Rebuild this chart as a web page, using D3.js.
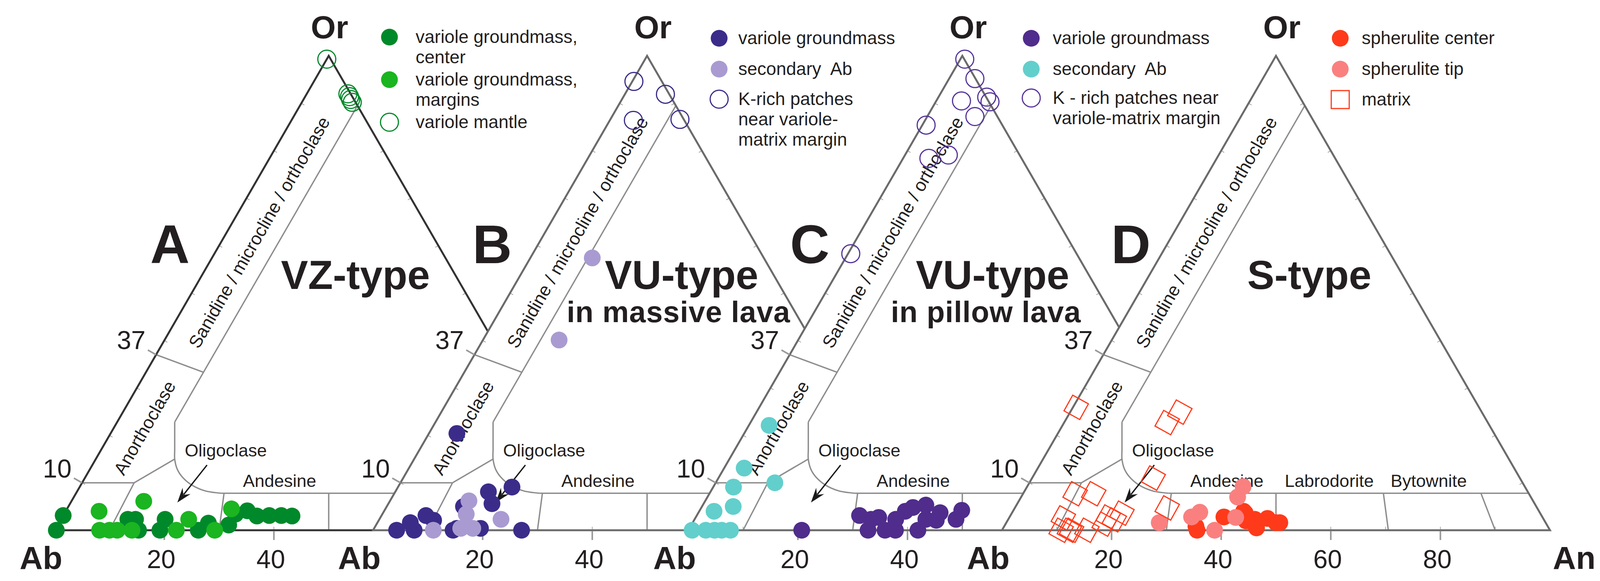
<!DOCTYPE html>
<html><head><meta charset="utf-8">
<script src="https://cdn.jsdelivr.net/npm/d3@7/dist/d3.min.js"></script>
<style>
body{margin:0;background:#fff}
svg{display:block}
text{font-family:"Liberation Sans",Arial,Helvetica,sans-serif;fill:#231f20}
</style>
</head><body>
<svg id="chart" width="4142" height="1488"></svg>
<script>
// ---------------- DATA ----------------
const panelLetters   = ["A", "B", "C", "D"];
const panelTitles    = ["VZ-type", "VU-type", "VU-type", "S-type"];
const panelSubtitles = ["", "in massive lava", "in pillow lava", ""];
const bottomTickLabels = [[20, 40], [20, 40], [20, 40], [20, 40, 60, 80]];
const leftTickLabels = [10, 37];
const vertexNames = ["Ab", "Or", "An"];

// field boundaries, [An, Or] in %
const bandLine   = [[10.5, 89.5], [10.5, 22.8]];
const curveLine  = [[10.5, 22.8], [11.9, 20], [13.4, 17], [14.4, 15], [15.9, 12.9], [17.7, 11.2], [20.3, 9.5], [23.3, 8.3], [26.5, 7.8]];
const plagTop    = [[26.5, 7.8], [92.2, 7.8]];
const line37     = [[0, 37], [10.5, 33.3]];
const line10     = [[0, 10], [9.5, 10]];
const lineAnor   = [[10, 0], [9.5, 10]];
const lineJ      = [[9.5, 10], [14.4, 15]];
const line30     = [[30, 0], [27, 7.8]];
const line50     = [[50, 0], [46.1, 7.8]];
const line70     = [[70.5, 0], [65.7, 7.8]];
const line90     = [[90, 0], [83.5, 7.8]];

// analyses, [An, Or] in %
const aCenter  = [[0.3,0],[0,3.1],[12.2,2.3],[13.6,2.3],[15.3,0],[19.2,0],[19,2.3],[26.2,0],[27.3,1.5],[31.2,1.1],[31.3,3.4],[33.1,4.1],[35.4,3.0],[37.6,3.1],[39.8,3.1],[41.8,3.0]];
const aMargins = [[6.1,4.0],[8.2,0],[10,0],[11.4,0],[14.1,0],[13.2,6.1],[22.2,0],[23.3,2.3],[29.2,0],[30,4.5]];
const aMantle  = [[0,99.3],[7.5,92],[8.1,91.4],[8.6,90.8],[9.2,90.2]];

const bGround  = [[4.3,0],[6,1.6],[7.5,0],[8.1,3.1],[10,2.1],[14.6,0],[14,5],[15.1,0.4],[19.4,0.4],[17,8.1],[18.9,5.6],[20.8,9.1],[27.1,0],[5.1,20.4]];
const bSecAb   = [[11,0],[14.4,6.2],[15.3,3.4],[15.8,0.4],[18,0.4],[22.2,2.3],[11.3,57.4],[13.9,40.1]];
const bKrich   = [[0.3,94.6],[7.4,91.9],[4.3,86.4],[12.7,86.6]];

const cGround  = [[20.7,0],[29.7,3.1],[32.8,0],[32.2,2.3],[33.4,2.7],[35.9,0],[37.8,0],[36.7,2.3],[37.6,4.0],[38.6,4.8],[41.9,0],[40.7,5.3],[42.2,2.3],[44.2,2.1],[44.1,3.7],[47.7,2.3],[47.8,4.2]];
const cSecAb   = [[3.7,22.1],[3.65,13.1],[3.7,9.1],[10.8,10],[5.7,5],[2.7,4],[0.7,0],[3.2,0],[4.8,0],[6.1,0],[7.7,0]];
const cKrich   = [[0.8,99.3],[4.7,95.2],[8.8,91.3],[9.9,90.3],[4.6,90.5],[8.7,87.2],[0.7,85.4],[4.7,78.4],[7.9,79.1],[0.5,58.3]];

const dCenter  = [[35,0.8],[35.6,0],[39.1,2.8],[42.1,4.0],[42.6,3.6],[43.5,2.0],[45,2.3],[45.9,0.8],[46.2,0.5],[47.2,2.5],[49.2,1.6],[49.9,1.6]];
const dTip     = [[27.9,1.6],[33.2,2.8],[34.2,3.8],[38.8,0],[39.5,7],[39.4,9.2],[41.3,2.7]];
const dMatrix  = [[0.6,25.9],[20,24.9],[18.8,22.7],[22.1,11],[9.5,7.7],[12.9,7.7],[9.9,2.6],[27.8,4.7],[18,2.8],[20.1,3.6],[19.4,2.2],[12.3,0],[10.8,0],[12.7,0],[15.5,0],[18,1.3]];

const legendA = [["variole groundmass,", "center"], ["variole groundmass,", "margins"], ["variole mantle"]];
const legendB = [["variole groundmass"], ["secondary  Ab"], ["K-rich patches", "near variole-", "matrix margin"]];
const legendC = [["variole groundmass"], ["secondary  Ab"], ["K - rich patches near", "variole-matrix margin"]];
const legendD = [["spherulite center"], ["spherulite tip"], ["matrix"]];

const fieldNames = ["Sanidine / microcline / orthoclase", "Anorthoclase", "Oligoclase", "Andesine", "Labrodorite", "Bytownite"];

// ---------------- LAYOUT / STYLE ----------------
const W = 1403, H = 1215, baseY = 1358;
const abX = [140, 955, 1762, 2565];
const edgeColor = ["#333333", "#6b6b6b", "#6b6b6b", "#6b6b6b"];
const bColor = "#8d8d8d";
const letterX = [435, 1260, 2073, 2895];
const titleX = [910, 1745, 2541, 3352];
const subX = [0, 1737, 2524, 0];
const legMarkX = [997, 1841, 2640, 3431];
const legTextX = [1064, 1890, 2695, 3486];
const legMarkY = [[95, 204, 313], [98, 177, 254], [98, 177, 251], [98, 177, 255]];
const legends = [legendA, legendB, legendC, legendD];

const seriesStyle = [
  [{d: aCenter, t: "fill", c: "#00892a"}, {d: aMargins, t: "fill", c: "#1ab520"}, {d: aMantle, t: "open", c: "#00892a"}],
  [{d: bGround, t: "fill", c: "#3b2c8a"}, {d: bSecAb, t: "fill", c: "#a99bd1"}, {d: bKrich, t: "open", c: "#3b2c8a"}],
  [{d: cGround, t: "fill", c: "#502c8c"}, {d: cSecAb, t: "fill", c: "#62cfcc"}, {d: cKrich, t: "open", c: "#55339a"}],
  [{d: dCenter, t: "fill", c: "#ff3a1a"}, {d: dTip, t: "fill", c: "#fa8080"}, {d: dMatrix, t: "square", c: "#ff3a1a"}]
];
const R = 21.5;

const svg = d3.select("#chart");
const defs = svg.append("defs");

function drawMarker(g, t, c, x, y) {
  if (t === "fill") {
    g.append("circle").attr("cx", x).attr("cy", y).attr("r", R).attr("fill", c);
  } else if (t === "open") {
    g.append("circle").attr("cx", x).attr("cy", y).attr("r", 23).attr("fill", "none").attr("stroke", c).attr("stroke-width", 3);
  } else {
    return g.append("rect").attr("x", x - 23).attr("y", y - 23).attr("width", 46).attr("height", 46)
      .attr("fill", "none").attr("stroke", c).attr("stroke-width", 3);
  }
}

panelLetters.forEach((letter, i) => {
  const x = d3.scaleLinear().domain([0, 100]).range([abX[i], abX[i] + W]);
  const y = d3.scaleLinear().domain([0, 100]).range([baseY, baseY - H]);
  const P = ([an, or]) => [x(an + or / 2), y(or)];
  const g = svg.append("g");

  // clip: everything left of the next triangle's left edge
  const lines = g.append("g");
  if (i < 3) {
    const nx = abX[i + 1];
    const lx = yy => nx + (baseY - yy) * (W / 2) / H;
    defs.append("clipPath").attr("id", "clip" + i).append("path")
      .attr("d", d3.line()([[-200, -200], [lx(-200), -200], [lx(1700), 1700], [-200, 1700]]) + "Z");
    lines.attr("clip-path", `url(#clip${i})`);
  }

  const lineGen = d3.line().x(d => P(d)[0]).y(d => P(d)[1]);
  const curveGen = d3.line().x(d => P(d)[0]).y(d => P(d)[1]).curve(d3.curveCatmullRom.alpha(0.5));

  [bandLine, plagTop, line37, line10, lineAnor, lineJ, line30, line50, line70, line90].forEach(l => {
    lines.append("path").attr("d", lineGen(l)).attr("fill", "none").attr("stroke", bColor).attr("stroke-width", 3.5);
  });
  lines.append("path").attr("d", curveGen(curveLine)).attr("fill", "none").attr("stroke", bColor).attr("stroke-width", 3.5);

  // small inward ticks every 10 %
  const tickG = lines.append("g").attr("stroke", "#999").attr("stroke-width", 1.6);
  for (let p = 10; p <= 90; p += 10) {
    const pts = [[p, 0], [0, p], [100 - p, p]];
    const dirs = [[0, -1], [0.866, 0.5], [-0.866, 0.5]];
    pts.forEach((pt, k) => {
      const [px, py] = P(pt);
      tickG.append("line").attr("x1", px).attr("y1", py)
        .attr("x2", px + dirs[k][0] * 9).attr("y2", py + dirs[k][1] * 9);
    });
  }

  // triangle
  lines.append("path").attr("d", lineGen([[0, 0], [0, 100], [100, 0]]) + "Z")
    .attr("fill", "none").attr("stroke", edgeColor[i]).attr("stroke-width", 5).attr("stroke-linejoin", "miter");

  // bottom ticks & labels
  bottomTickLabels[i].forEach(t => {
    const [px, py] = P([t, 0]);
    lines.append("line").attr("x1", px).attr("y1", py + 2).attr("x2", px).attr("y2", py + 25)
      .attr("stroke", "#999").attr("stroke-width", 4);
    g.append("text").attr("x", px - 8).attr("y", 1455).attr("text-anchor", "middle")
      .attr("font-size", 66).text(t);
  });

  // left ticks & labels
  leftTickLabels.forEach(t => {
    const [px, py] = P([0, t]);
    lines.append("line").attr("x1", px).attr("y1", py).attr("x2", px - 21).attr("y2", py - 12)
      .attr("stroke", "#999").attr("stroke-width", 4);
    g.append("text").attr("x", px - 27).attr("y", py - 14).attr("text-anchor", "end")
      .attr("font-size", 66).text(t);
  });

  // vertex labels
  g.append("text").attr("x", abX[i] - 35).attr("y", 1457).attr("text-anchor", "middle")
    .attr("font-size", 82).attr("font-weight", "bold").text(vertexNames[0]);
  const apex = P([0, 100]);
  g.append("text").attr("x", apex[0] + (i === 0 ? 2 : 15)).attr("y", 98).attr("text-anchor", "middle")
    .attr("font-size", 82).attr("font-weight", "bold").text(vertexNames[1]);
  if (i === 3) {
    g.append("text").attr("x", abX[i] + W + 62).attr("y", 1457).attr("text-anchor", "middle")
      .attr("font-size", 82).attr("font-weight", "bold").text(vertexNames[2]);
  }

  // field names
  const s = P([5.9, 62.8]);
  g.append("text").attr("transform", `translate(${s[0]},${s[1]}) rotate(-60)`).attr("text-anchor", "middle")
    .attr("dy", "0.35em").attr("font-size", 46).text(fieldNames[0]);
  const an = P([5.6, 21.6]);
  g.append("text").attr("transform", `translate(${an[0]},${an[1]}) rotate(-60)`).attr("text-anchor", "middle")
    .attr("dy", "0.35em").attr("font-size", 46).text(fieldNames[1]);
  g.append("text").attr("x", abX[i] + 333).attr("y", 1169).attr("font-size", 45).text(fieldNames[2]);
  g.append("text").attr("x", abX[i] + 482).attr("y", 1247).attr("font-size", 45).text(fieldNames[3]);
  if (i === 3) {
    g.append("text").attr("x", abX[i] + 724).attr("y", 1247).attr("font-size", 45).text(fieldNames[4]);
    g.append("text").attr("x", abX[i] + 995).attr("y", 1247).attr("font-size", 45).text(fieldNames[5]);
  }

  // arrow
  const a0 = [abX[i] + 390, baseY - 167], a1 = [abX[i] + 314, baseY - 71];
  const dx = a1[0] - a0[0], dy = a1[1] - a0[1], L = Math.hypot(dx, dy);
  const ux = dx / L, uy = dy / L, nx = -uy, ny = ux;
  const hl = 34, hw = 13;
  const base = [a1[0] - ux * hl, a1[1] - uy * hl];
  g.append("line").attr("x1", a0[0]).attr("y1", a0[1]).attr("x2", base[0] + ux * 8).attr("y2", base[1] + uy * 8)
    .attr("stroke", "#1a1a1a").attr("stroke-width", 3.5);
  g.append("path").attr("d", d3.line()([
    a1, [base[0] + nx * hw - ux * 4, base[1] + ny * hw - uy * 4], [base[0] + ux * 9, base[1] + uy * 9],
    [base[0] - nx * hw - ux * 4, base[1] - ny * hw - uy * 4]]) + "Z").attr("fill", "#1a1a1a");

  // panel letter and titles
  g.append("text").attr("x", letterX[i]).attr("y", 674).attr("text-anchor", "middle")
    .attr("font-size", 140).attr("font-weight", "bold").text(letter);
  g.append("text").attr("x", titleX[i]).attr("y", 740).attr("text-anchor", "middle")
    .attr("font-size", 104).attr("font-weight", "bold").text(panelTitles[i]);
  if (panelSubtitles[i]) {
    g.append("text").attr("x", subX[i]).attr("y", 825).attr("text-anchor", "middle")
      .attr("font-size", 76).attr("font-weight", "bold").attr("letter-spacing", 1).text(panelSubtitles[i]);
  }

  // data points
  const pts = g.append("g");
  seriesStyle[i].forEach(sr => {
    sr.d.forEach(d => {
      const [px, py] = P(d);
      const m = drawMarker(pts, sr.t, sr.c, px, py);
      if (sr.t === "square") m.attr("transform", `rotate(29,${px},${py})`);
    });
  });

  // legend
  const lg = g.append("g");
  legends[i].forEach((entry, k) => {
    const sr = seriesStyle[i][k];
    const my = legMarkY[i][k];
    drawMarker(lg, sr.t, sr.c, legMarkX[i], my);
    entry.forEach((ln, j) => {
      lg.append("text").attr("x", legTextX[i]).attr("y", my + 15 + j * 52).attr("font-size", 46)
        .style("white-space", "pre").text(ln);
    });
  });
});
</script>
</body></html>
